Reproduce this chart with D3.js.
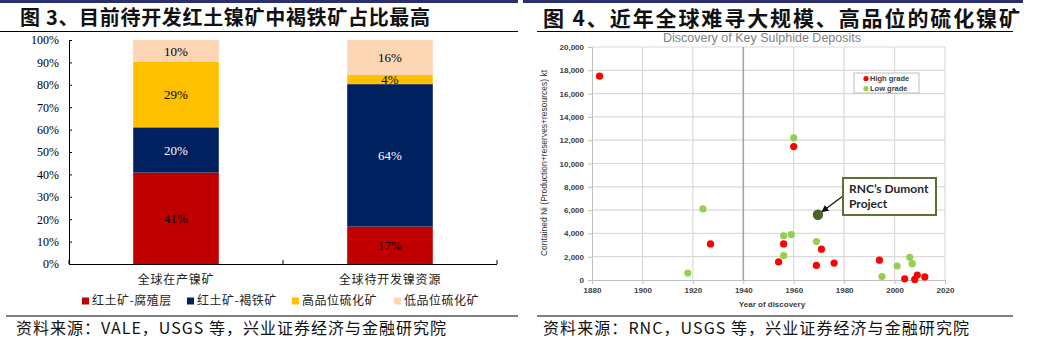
<!DOCTYPE html>
<html><head><meta charset="utf-8">
<script src="https://cdn.jsdelivr.net/npm/d3@7"></script>
<style>
html,body{margin:0;padding:0;background:#fff;}
svg{display:block;}
</style></head>
<body>
<svg id="c" width="1041" height="359"></svg>
<script>
// ---------- Data: left chart ----------
const barCategories = ["全球在产镍矿", "全球待开发镍资源"];
const seriesNames = ["红土矿-腐殖层", "红土矿-褐铁矿", "高品位硫化矿", "低品位硫化矿"];
const seriesSaprolite = [40.8, 16.7];
const seriesLimonite = [20.2, 63.6];
const seriesHighSulphide = [29.2, 4.1];
const seriesLowSulphide = [9.8, 15.6];
const pctTicks = [0,10,20,30,40,50,60,70,80,90,100];

// ---------- Data: right chart ----------
const highGradeYears = [1883, 1927, 1954, 1956, 1960, 1969, 1971, 1976, 1994, 2004, 2008, 2009, 2012];
const highGradeValues = [17500, 3100, 1550, 3100, 11450, 1250, 2650, 1450, 1700, 100, 50, 430, 260];
const lowGradeYears = [1918, 1924, 1956, 1956, 1959, 1960, 1969, 1995, 2001, 2006, 2007];
const lowGradeValues = [600, 6100, 3800, 2100, 3900, 12200, 3300, 300, 1200, 1950, 1400];
const dumontYear = [1969.6];
const dumontValue = [5600];
const yearTicks = [1880, 1900, 1920, 1940, 1960, 1980, 2000, 2020];
const niTicks = [0, 2000, 4000, 6000, 8000, 10000, 12000, 14000, 16000, 18000, 20000];

const svg = d3.select("#c");
const CJK = "'Noto Sans CJK SC', 'Noto Sans', sans-serif";
const SERIF = "'Liberation Serif', 'DejaVu Serif', serif";
const ARIAL = "'Liberation Sans', Arial, sans-serif";

// ---------- Frame lines & titles ----------
svg.append("rect").attr("x",0).attr("y",0).attr("width",518).attr("height",3).attr("fill","#2B2F6B");
svg.append("rect").attr("x",523).attr("y",0).attr("width",500).attr("height",3).attr("fill","#2B2F6B");
svg.append("line").attr("x1",0).attr("x2",518).attr("y1",31.5).attr("y2",31.5).attr("stroke","#000").attr("stroke-width",1);
svg.append("line").attr("x1",537).attr("x2",1013).attr("y1",31.5).attr("y2",31.5).attr("stroke","#000").attr("stroke-width",1);
svg.append("line").attr("x1",6).attr("x2",518).attr("y1",316).attr("y2",316).attr("stroke","#000").attr("stroke-width",1);
svg.append("line").attr("x1",537).attr("x2",1013).attr("y1",316).attr("y2",316).attr("stroke","#000").attr("stroke-width",1);

svg.append("text").attr("x",20).attr("y",25).attr("font-family",CJK).attr("font-weight","bold")
  .attr("font-size",20).attr("fill","#111").attr("textLength",410).attr("lengthAdjust","spacing")
  .text("图 3、目前待开发红土镍矿中褐铁矿占比最高");
svg.append("text").attr("x",543).attr("y",26).attr("font-family",CJK).attr("font-weight","bold")
  .attr("font-size",21).attr("fill","#111").attr("textLength",477).attr("lengthAdjust","spacing")
  .text("图 4、近年全球难寻大规模、高品位的硫化镍矿");

svg.append("text").attr("x",16).attr("y",334).attr("font-family",CJK).attr("font-size",16)
  .attr("fill","#111").attr("textLength",430).attr("lengthAdjust","spacing")
  .text("资料来源：VALE，USGS 等，兴业证券经济与金融研究院");
svg.append("text").attr("x",543).attr("y",334).attr("font-family",CJK).attr("font-size",16)
  .attr("fill","#111").attr("textLength",426).attr("lengthAdjust","spacing")
  .text("资料来源：RNC，USGS 等，兴业证券经济与金融研究院");

// ---------- Left chart ----------
const colors = ["#C00000", "#002060", "#FFC000", "#FCD5B5"];
const labelColors = ["#000", "#fff", "#000", "#000"];
const seriesArrays = [seriesSaprolite, seriesLimonite, seriesHighSulphide, seriesLowSulphide];
const rows = barCategories.map((c,i) => {
  const r = {cat:c};
  seriesNames.forEach((s,j) => r[s] = seriesArrays[j][i]);
  return r;
});
const stack = d3.stack().keys(seriesNames)(rows);

const xB = d3.scaleBand().domain(barCategories).range([69, 497]).paddingInner(0.6).paddingOuter(0.3);
const yP = d3.scaleLinear().domain([0,100]).range([264, 40]);

const left = svg.append("g");
stack.forEach((layer, j) => {
  left.selectAll(null).data(layer).enter().append("rect")
    .attr("x", d => xB(d.data.cat))
    .attr("width", xB.bandwidth())
    .attr("y", d => yP(d[1]))
    .attr("height", d => yP(d[0]) - yP(d[1]))
    .attr("fill", colors[j]);
  left.selectAll(null).data(layer).enter().append("text")
    .attr("x", d => xB(d.data.cat) + xB.bandwidth()/2)
    .attr("y", d => (yP(d[0]) + yP(d[1]))/2)
    .attr("dy","0.35em")
    .attr("text-anchor","middle")
    .attr("font-family", SERIF).attr("font-size", 13)
    .attr("fill", labelColors[j])
    .text(d => Math.round(d[1]-d[0]) + "%");
});

// y axis
const yAx = left.append("g").attr("transform","translate(69,0)")
  .call(d3.axisLeft(yP).tickValues(pctTicks).tickFormat(d => d + "%").tickSize(-3).tickPadding(10));
yAx.select(".domain").attr("stroke","#000");
yAx.selectAll(".tick line").attr("stroke","#000");
yAx.selectAll("text").attr("font-family",SERIF).attr("font-size",12).attr("fill","#000");

// x axis
left.append("line").attr("x1",69).attr("x2",497).attr("y1",264.5).attr("y2",264.5).attr("stroke","#000");
const catBounds = [69, 69 + xB.step(), 69 + 2*xB.step()];
left.selectAll(null).data(catBounds).enter().append("line")
  .attr("x1", d=>d).attr("x2", d=>d).attr("y1",264).attr("y2",260).attr("stroke","#000");
left.selectAll(null).data(barCategories).enter().append("text")
  .attr("x", d => xB(d) + xB.bandwidth()/2).attr("y", 284)
  .attr("text-anchor","middle").attr("font-family",CJK).attr("font-size",12).attr("fill","#222")
  .attr("letter-spacing", "0.8px")
  .text(d => d);

// legend
const legX = [82, 187, 292, 394];
const leg = left.selectAll(null).data(seriesNames).enter().append("g")
  .attr("transform", (d,i) => `translate(${legX[i]},301)`);
leg.append("rect").attr("x",0).attr("y",-3.5).attr("width",7).attr("height",7).attr("fill",(d,i)=>colors[i]);
leg.append("text").attr("x",10).attr("y",0).attr("dy","0.35em").attr("font-family",CJK)
  .attr("font-size",12).attr("fill","#222").attr("letter-spacing","0.5px").text(d=>d);

// ---------- Right chart ----------
const xY = d3.scaleLinear().domain([1880, 2020]).range([592, 945]);
const yN = d3.scaleLinear().domain([0, 20000]).range([280, 47]);
const right = svg.append("g");

right.append("text").attr("x", 762).attr("y", 42).attr("text-anchor","middle")
  .attr("font-family", ARIAL).attr("font-size", 12.5).attr("fill","#7f7f7f")
  .text("Discovery of Key Sulphide Deposits");

// gridlines
right.selectAll(null).data(niTicks.slice(1)).enter().append("line")
  .attr("x1", xY(1880)).attr("x2", xY(2020)).attr("y1", d=>yN(d)).attr("y2", d=>yN(d))
  .attr("stroke","#D9D9D9").attr("stroke-width",1.2);
right.selectAll(null).data(yearTicks.slice(1)).enter().append("line")
  .attr("x1", d=>xY(d)).attr("x2", d=>xY(d)).attr("y1", yN(0)).attr("y2", yN(20000))
  .attr("stroke", d => d === 1940 ? "#A6A6A6" : "#D9D9D9").attr("stroke-width", d => d===1940 ? 1.6 : 1.2);

// axes
const yAx2 = right.append("g").attr("transform", `translate(${xY(1880)},0)`)
  .call(d3.axisLeft(yN).tickValues(niTicks).tickFormat(d3.format(",")).tickSize(4).tickPadding(4));
yAx2.select(".domain").attr("stroke","#BFBFBF");
yAx2.selectAll(".tick line").attr("stroke","#BFBFBF");
yAx2.selectAll("text").attr("font-family",ARIAL).attr("font-weight","bold").attr("font-size",8).attr("fill","#404040");

const xAx2 = right.append("g").attr("transform", `translate(0,${yN(0)})`)
  .call(d3.axisBottom(xY).tickValues(yearTicks).tickFormat(d3.format("d")).tickSize(4).tickPadding(3));
xAx2.select(".domain").attr("stroke","#BFBFBF");
xAx2.selectAll(".tick line").attr("stroke","#BFBFBF");
xAx2.selectAll("text").attr("font-family",ARIAL).attr("font-weight","bold").attr("font-size",8).attr("fill","#404040");

right.append("text").attr("x", 772).attr("y", 307).attr("text-anchor","middle")
  .attr("font-family",ARIAL).attr("font-weight","bold").attr("font-size",8).attr("fill","#404040")
  .text("Year of discovery");
right.append("text").attr("transform", "translate(547,163) rotate(-90)").attr("text-anchor","middle")
  .attr("font-family",ARIAL).attr("font-size",8.6).attr("fill","#333")
  .attr("textLength",186).attr("lengthAdjust","spacingAndGlyphs")
  .text("Contained Ni (Production+reserves+resources) kt");

// points
right.selectAll(null).data(lowGradeYears.map((y,i)=>[y, lowGradeValues[i]])).enter().append("circle")
  .attr("cx", d=>xY(d[0])).attr("cy", d=>yN(d[1])).attr("r",3.6).attr("fill","#92D050");
right.selectAll(null).data(highGradeYears.map((y,i)=>[y, highGradeValues[i]])).enter().append("circle")
  .attr("cx", d=>xY(d[0])).attr("cy", d=>yN(d[1])).attr("r",3.6).attr("fill","#FF0000");
right.selectAll(null).data(dumontYear.map((y,i)=>[y, dumontValue[i]])).enter().append("circle")
  .attr("cx", d=>xY(d[0])).attr("cy", d=>yN(d[1])).attr("r",5.2).attr("fill","#4F6228");

// legend
const lg = right.append("g").attr("transform","translate(854,73)");
lg.append("rect").attr("width",65).attr("height",20).attr("fill","#fff").attr("stroke","#BFBFBF");
const lgItems = [["High grade","#FF0000"],["Low grade","#92D050"]];
lgItems.forEach((it,i) => {
  lg.append("circle").attr("cx",12).attr("cy",5.5+i*10).attr("r",2.6).attr("fill",it[1]);
  lg.append("text").attr("x",16).attr("y",5.5+i*10).attr("dy","0.35em").attr("font-family",ARIAL)
    .attr("font-weight","bold").attr("font-size",7.5).attr("fill","#404040").text(it[0]);
});

// annotation
const dx = xY(dumontYear[0]), dy = yN(dumontValue[0]);
right.append("defs").append("marker").attr("id","ah").attr("viewBox","0 0 10 10").attr("refX",9).attr("refY",5)
  .attr("markerWidth",6).attr("markerHeight",6).attr("orient","auto")
  .append("path").attr("d","M0,0 L10,5 L0,10 z").attr("fill","#111");
right.append("line").attr("x1",843).attr("y1",196).attr("x2",dx+4).attr("y2",dy-3)
  .attr("stroke","#111").attr("stroke-width",1.2).attr("marker-end","url(#ah)");
right.append("rect").attr("x",843).attr("y",178).attr("width",93).attr("height",37)
  .attr("fill","#fff").attr("stroke","#5A7230").attr("stroke-width",2);
right.append("text").attr("x",849).attr("y",193).attr("font-family","Lato, 'Open Sans', sans-serif")
  .attr("font-weight","bold").attr("font-size",12).attr("fill","#262626").text("RNC’s Dumont");
right.append("text").attr("x",849).attr("y",208).attr("font-family","Lato, 'Open Sans', sans-serif")
  .attr("font-weight","bold").attr("font-size",12).attr("fill","#262626").text("Project");
</script>
</body></html>
